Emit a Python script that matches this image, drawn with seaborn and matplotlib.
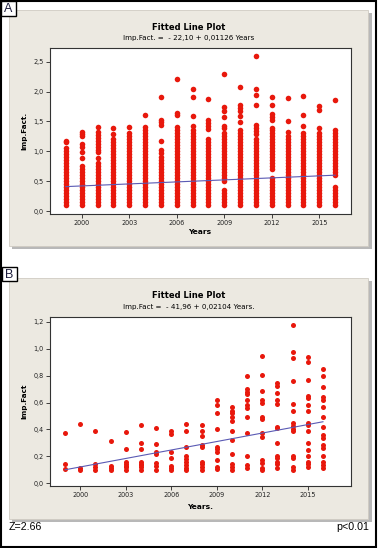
import matplotlib
matplotlib.use("Agg")
import matplotlib.pyplot as plt
import seaborn as sns
import pandas as pd
from matplotlib.patches import Rectangle
from matplotlib.ticker import FuncFormatter

# ---- data -------------------------------------------------------------
years = [1999, 2000, 2001, 2002, 2003, 2004, 2005, 2006, 2007,
         2008, 2009, 2010, 2011, 2012, 2013, 2014, 2015, 2016]

# panel A: every year is a solid column of journals from 0,1 up to dense_top
dense_levels = [0.10, 0.15, 0.20, 0.25, 0.30, 0.35, 0.40, 0.45, 0.50, 0.55,
                0.60, 0.65, 0.70, 0.75, 0.80, 0.85, 0.90, 0.95, 1.00, 1.05,
                1.10, 1.15, 1.20, 1.25, 1.30, 1.35, 1.40]
dense_top = [1.05, 0.75, 0.80, 1.20, 1.30, 1.40, 0.90, 1.30, 1.30,
             1.20, 1.30, 1.30, 1.20, 1.25, 1.25, 1.30, 1.30, 1.25]
gap_lo = [0, 0, 0, 0, 0, 0, 0, 0, 0, 0, 0.39, 0, 0, 0.58, 0, 0, 0, 0.44]
gap_hi = [0, 0, 0, 0, 0, 0, 0, 0, 0, 0, 0.49, 0, 0, 0.70, 0, 0, 0, 0.56]
# loose points above / between the solid columns
loose_a = [
    [1.18, 1.15],
    [1.33, 1.29, 1.25, 1.12, 1.08, 0.99, 0.88],
    [1.41, 1.33, 1.28, 1.23, 1.18, 1.13, 1.08, 1.03, 0.98, 0.88],
    [1.39, 1.29],
    [1.41],
    [1.60],
    [1.91, 1.53, 1.49, 1.44, 1.17, 1.02, 0.97],
    [2.21, 1.64, 1.61, 1.40, 1.35],
    [2.05, 1.91, 1.59, 1.42, 1.35],
    [1.88, 1.53, 1.48, 1.43, 1.38],
    [2.29, 1.74, 1.68, 1.58, 1.43, 1.39],
    [2.07, 1.78, 1.73, 1.67, 1.59, 1.49, 1.35],
    [2.59, 2.04, 1.95, 1.78, 1.44, 1.39, 1.34, 1.29],
    [1.91, 1.77, 1.62, 1.57, 1.53, 1.39, 1.35, 1.31],
    [1.90, 1.51, 1.33],
    [1.93, 1.60, 1.43],
    [1.76, 1.70, 1.39],
    [1.86, 1.36, 1.30],
]

# panel B
imp_b = [
    [0.375, 0.145, 0.105],
    [0.44, 0.115, 0.10],
    [0.39, 0.14, 0.12, 0.10],
    [0.31, 0.125, 0.11, 0.095],
    [0.38, 0.255, 0.16, 0.145, 0.13, 0.12, 0.10],
    [0.43, 0.295, 0.25, 0.16, 0.145, 0.135, 0.12, 0.10],
    [0.41, 0.29, 0.235, 0.22, 0.15, 0.13, 0.10],
    [0.385, 0.365, 0.23, 0.19, 0.13, 0.11, 0.10],
    [0.44, 0.39, 0.27, 0.20, 0.18, 0.16, 0.135, 0.115, 0.10],
    [0.43, 0.39, 0.35, 0.28, 0.265, 0.16, 0.14, 0.12, 0.10],
    [0.62, 0.585, 0.52, 0.405, 0.27, 0.25, 0.23, 0.17, 0.12, 0.105],
    [0.565, 0.54, 0.52, 0.49, 0.46, 0.385, 0.32, 0.22, 0.14, 0.12, 0.10],
    [0.80, 0.70, 0.68, 0.66, 0.62, 0.585, 0.56, 0.49, 0.37, 0.20, 0.135, 0.11],
    [0.95, 0.805, 0.685, 0.62, 0.60, 0.49, 0.475, 0.37, 0.345, 0.17, 0.15, 0.11, 0.10],
    [0.745, 0.725, 0.67, 0.62, 0.59, 0.42, 0.41, 0.30, 0.205, 0.185, 0.16, 0.14, 0.115],
    [1.18, 0.975, 0.93, 0.76, 0.59, 0.535, 0.445, 0.425, 0.405, 0.385, 0.205, 0.19, 0.12, 0.10],
    [0.94, 0.905, 0.765, 0.65, 0.635, 0.58, 0.54, 0.45, 0.43, 0.385, 0.30, 0.245, 0.20, 0.16, 0.14, 0.12],
    [0.85, 0.80, 0.715, 0.64, 0.62, 0.565, 0.49, 0.42, 0.36, 0.335, 0.285, 0.26, 0.20, 0.155, 0.135, 0.11],
]

fit_a = (-22.10, 0.01126)
fit_b = (-41.96, 0.02104)
fit_years = [1999, 2016]

# ---- build tables -----------------------------------------------------
rows = []
for yr, top, lo, hi, extra in zip(years, dense_top, gap_lo, gap_hi, loose_a):
    for v in dense_levels:
        if v <= top + 1e-9 and not (lo < v < hi):
            rows.append((yr, v))
    for v in extra:
        rows.append((yr, v))
df_a = pd.DataFrame(rows, columns=["Years", "Imp.Fact."])

rows = []
for yr, vals in zip(years, imp_b):
    for v in vals:
        rows.append((yr, v))
df_b = pd.DataFrame(rows, columns=["Years", "Imp.Fact"])

line_a = pd.DataFrame({"Years": fit_years,
                       "fit": [fit_a[0] + fit_a[1] * y for y in fit_years]})
line_b = pd.DataFrame({"Years": fit_years,
                       "fit": [fit_b[0] + fit_b[1] * y for y in fit_years]})

# ---- figure -----------------------------------------------------------
W, H = 378, 548
fig = plt.figure(figsize=(W / 100, H / 100), dpi=100, facecolor="white")


def fx(px):
    return px / W


def fy(py):
    return 1 - py / H


def panel(top, bottom):
    # grey drop shadow and beige minitab background
    fig.add_artist(Rectangle((fx(12), fy(bottom + 3)), fx(360), (bottom - top) / H,
                             transform=fig.transFigure, facecolor="#b8b8b8",
                             edgecolor="none", zorder=-2))
    fig.add_artist(Rectangle((fx(9), fy(bottom)), fx(359), (bottom - top) / H,
                             transform=fig.transFigure, facecolor="#ece9e1",
                             edgecolor="#cfcbc2", linewidth=0.6, zorder=-1))


panel(10, 246)
panel(278, 519)

red = "#e8180c"
blue = "#5a5ab4"
comma = FuncFormatter(lambda v, p: f"{v:.1f}".replace(".", ","))


def style(ax, ylim, yticks, xlim):
    ax.set_xlim(*xlim)
    ax.set_ylim(*ylim)
    ax.set_xticks([2000, 2003, 2006, 2009, 2012, 2015])
    ax.set_yticks(yticks)
    ax.yaxis.set_major_formatter(comma)
    ax.set_xlabel("")
    ax.set_ylabel("")
    ax.set_facecolor("white")
    for s in ax.spines.values():
        s.set_color("#333333")
        s.set_linewidth(0.8)
    ax.tick_params(labelsize=4.7, length=3, width=0.6, pad=1.5, colors="#222222")


ax_a = fig.add_axes([fx(50), fy(214), fx(301), 166 / H])
sns.scatterplot(data=df_a, x="Years", y="Imp.Fact.", ax=ax_a, color=red,
                s=16, linewidth=0, legend=False)
sns.lineplot(data=line_a, x="Years", y="fit", ax=ax_a, color=blue, linewidth=0.8)
style(ax_a, (-0.05, 2.73), [0, 0.5, 1.0, 1.5, 2.0, 2.5], (1998, 2017))

ax_b = fig.add_axes([fx(50), fy(486), fx(301), 169 / H])
sns.scatterplot(data=df_b, x="Years", y="Imp.Fact", ax=ax_b, color=red,
                s=13, linewidth=0, legend=False)
sns.lineplot(data=line_b, x="Years", y="fit", ax=ax_b, color=blue, linewidth=0.8)
style(ax_b, (-0.022, 1.237), [0, 0.2, 0.4, 0.6, 0.8, 1.0, 1.2], (1998, 2017.85))

# titles and axis labels
fig.text(fx(189), fy(27.5), "Fitted Line Plot", ha="center", va="center",
         fontsize=6, fontweight="bold")
fig.text(fx(189), fy(38), "Imp.Fact. =  - 22,10 + 0,01126 Years", ha="center",
         va="center", fontsize=5.1)
fig.text(fx(200), fy(232), "Years", ha="center", va="center", fontsize=5.4,
         fontweight="bold")
fig.text(fx(24.5), fy(131), "Imp.Fact.", ha="center", va="center", fontsize=5.2,
         fontweight="bold", rotation=90)

fig.text(fx(189), fy(295), "Fitted Line Plot", ha="center", va="center",
         fontsize=6, fontweight="bold")
fig.text(fx(189), fy(306.5), "Imp.Fact =  - 41,96 + 0,02104 Years.", ha="center",
         va="center", fontsize=5.1)
fig.text(fx(200), fy(507), "Years.", ha="center", va="center", fontsize=5.4,
         fontweight="bold")
fig.text(fx(24.5), fy(401), "Imp.Fact", ha="center", va="center", fontsize=5.2,
         fontweight="bold", rotation=90)

# statistics below the panels
fig.text(fx(9), fy(527.5), "Z=2.66", ha="left", va="center", fontsize=7.7,
         family="Liberation Sans")
fig.text(fx(369), fy(527.5), "p<0.01", ha="right", va="center", fontsize=7.7,
         family="Liberation Sans")

# outer frame and panel letters
fig.add_artist(Rectangle((fx(0.8), fy(547)), fx(375.5), 546.2 / H,
                         transform=fig.transFigure, facecolor="none",
                         edgecolor="black", linewidth=1.5, zorder=5))
for letter, x0, y0, x1, y1 in [("A", 0.8, 0.8, 16, 16), ("B", 2, 267, 17, 281)]:
    fig.add_artist(Rectangle((fx(x0), fy(y1)), fx(x1 - x0), (y1 - y0) / H,
                             transform=fig.transFigure, facecolor="white",
                             edgecolor="black", linewidth=1.0, zorder=6))
    fig.text(fx((x0 + x1) / 2), fy((y0 + y1) / 2 + 0.5), letter, ha="center",
             va="center", fontsize=9, color="#1c1c3c", family="Liberation Sans",
             zorder=7)

fig.savefig("out.png", dpi=100)
